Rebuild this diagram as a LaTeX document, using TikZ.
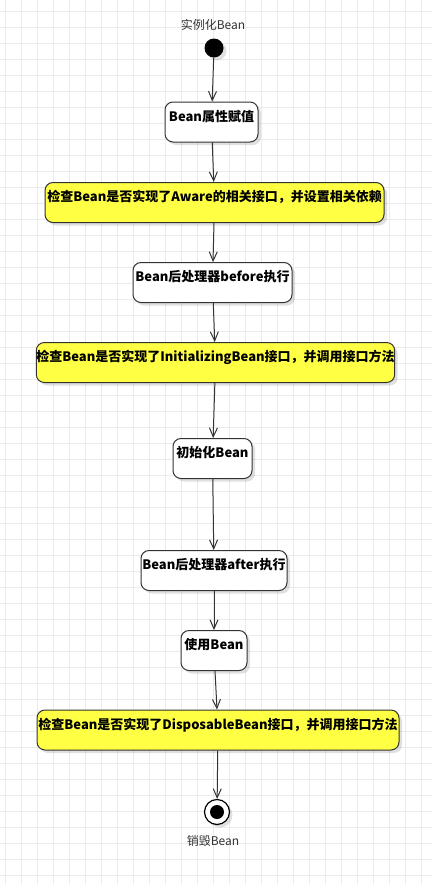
\documentclass[tikz,border=0pt]{standalone}
\usepackage{fontspec}
\setmainfont{Noto Sans CJK SC}
\usetikzlibrary{arrows.meta, positioning, shadows}
\definecolor{gridgray}{HTML}{EBEBEB}
\definecolor{edgegray}{HTML}{333333}
\definecolor{checkyellow}{HTML}{FFFF44}

\begin{document}
\begin{tikzpicture}[x=1pt, y=-1pt,
    gridline/.style={gridgray, line width=0.8pt},
    actbox/.style={draw=edgegray, line width=1pt, fill=white, rounded corners=8pt,
        font=\bfseries\fontsize{13}{15}\selectfont,
        text height=19pt, text depth=21pt, inner ysep=0pt, inner xsep=0pt,
        drop shadow={shadow xshift=3pt, shadow yshift=-3pt, opacity=0.12, fill=black}},
    checkbox/.style={actbox, fill=checkyellow},
    startdot/.style={circle, fill=black, minimum size=19pt, inner sep=0pt,
        drop shadow={shadow xshift=3pt, shadow yshift=-3pt, opacity=0.12, fill=black}},
    enddot/.style={circle, draw=black, line width=1.2pt, fill=white, minimum size=25pt, inner sep=0pt,
        drop shadow={shadow xshift=3pt, shadow yshift=-3pt, opacity=0.12, fill=black}},
    flow/.style={edgegray, line width=1pt, -{Straight Barb[length=9pt, width=8pt]}},
    caption/.style={edgegray, font=\fontsize{12}{14}\selectfont}]

    % Background grid
    \fill[white] (0,0) rectangle (432,884);
    \useasboundingbox (0,0) rectangle (432,884);
    \foreach \gx in {5.3,21.3,...,432} {
        \draw[gridline] (\gx,0) -- (\gx,884);
    }
    \foreach \gy in {11.3,27.3,...,884} {
        \draw[gridline] (0,\gy) -- (432,\gy);
    }

    % Start state
    \node[caption] (startlabel) at (213,25) {实例化Bean};
    \node[startdot] (start) at (214,48) {};

    % Life cycle steps
    \node[actbox, minimum width=93pt] (assign) at (211.5,122) {Bean属性赋值};
    \node[checkbox, minimum width=339pt] (aware) at (214.5,202.5) {检查Bean是否实现了Aware的相关接口，并设置相关依赖};
    \node[actbox, minimum width=159pt] (before) at (212.5,282.5) {Bean后处理器before执行};
    \node[checkbox, minimum width=357pt] (initbean) at (215.5,362.5) {检查Bean是否实现了InitializingBean接口，并调用接口方法};
    \node[actbox, minimum width=79pt] (init) at (212.5,458.5) {初始化Bean};
    \node[actbox, minimum width=146pt] (after) at (214,570.5) {Bean后处理器after执行};
    \node[actbox, minimum width=66pt] (use) at (214,650.5) {使用Bean};
    \node[checkbox, minimum width=362pt] (dispose) at (218,730) {检查Bean是否实现了DisposableBean接口，并调用接口方法};

    % End state
    \node[enddot] (stop) at (217,812) {};
    \fill[black] (stop.center) circle (7pt);
    \node[caption] (stoplabel) at (213,841) {销毁Bean};

    % Transitions
    \foreach \a/\b in {start/assign, assign/aware, aware/before, before/initbean,
        initbean/init, init/after, after/use, use/dispose, dispose/stop} {
        \draw[flow] (\a) -- (\b);
    }
\end{tikzpicture}
\end{document}
